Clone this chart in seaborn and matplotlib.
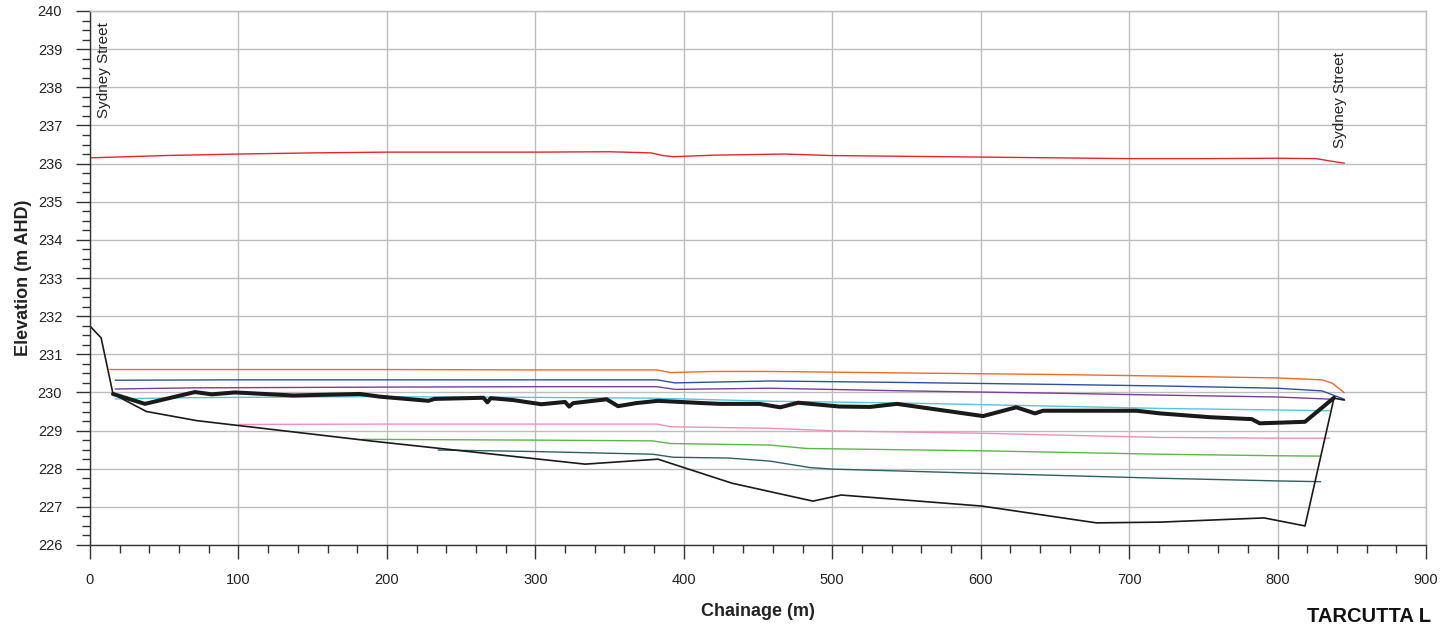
import matplotlib
matplotlib.use("Agg")
import matplotlib.pyplot as plt
from matplotlib.ticker import MultipleLocator
import seaborn as sns

# ---------------- data ----------------
red_x = [0, 50, 100, 150, 200, 250, 300, 350, 378, 386, 393, 420, 468, 500, 550, 600, 650, 700, 750, 800, 826, 835, 845]
red_y = [236.15, 236.21, 236.25, 236.28, 236.30, 236.30, 236.30, 236.31, 236.28, 236.21, 236.18, 236.22, 236.25, 236.21, 236.19, 236.17, 236.15, 236.13, 236.13, 236.14, 236.13, 236.07, 236.01]

orange_x = [13.5, 100, 200, 300, 382, 391, 420, 458, 550, 650, 721, 800, 830, 837, 845]
orange_y = [230.60, 230.60, 230.60, 230.59, 230.59, 230.52, 230.55, 230.55, 230.51, 230.47, 230.43, 230.38, 230.33, 230.24, 229.99]

blue_x = [17, 100, 200, 300, 382, 394, 458, 550, 650, 721, 800, 830, 845]
blue_y = [230.32, 230.33, 230.33, 230.33, 230.33, 230.25, 230.30, 230.26, 230.21, 230.17, 230.11, 230.04, 229.82]

purple_x = [17, 70, 200, 300, 382, 394, 458, 550, 650, 721, 800, 838]
purple_y = [230.09, 230.12, 230.14, 230.15, 230.15, 230.08, 230.11, 230.04, 229.98, 229.93, 229.88, 229.82]

cyan_x = [17, 60, 100, 188, 300, 379, 458, 550, 650, 721, 800, 835]
cyan_y = [229.83, 229.86, 229.87, 229.89, 229.87, 229.85, 229.77, 229.72, 229.64, 229.58, 229.54, 229.52]

pink_x = [100, 200, 300, 382, 391, 458, 503, 600, 721, 800, 835]
pink_y = [229.16, 229.17, 229.17, 229.17, 229.10, 229.06, 228.99, 228.93, 228.82, 228.80, 228.80]

green_x = [183, 300, 379, 391, 458, 483, 600, 721, 800, 829]
green_y = [228.77, 228.75, 228.73, 228.66, 228.62, 228.53, 228.47, 228.38, 228.34, 228.33]

teal_x = [234.5, 300, 379, 393, 430, 458, 485, 500, 600, 721, 800, 829]
teal_y = [228.49, 228.45, 228.38, 228.30, 228.28, 228.20, 228.03, 227.99, 227.88, 227.75, 227.68, 227.66]

bed_x = [15.5, 37, 70.7, 82, 97.7, 137, 182, 195, 228, 232, 265, 267.7, 270, 285, 304, 320, 322.8, 325.5,
         348, 355.7, 368, 382.6, 413, 424.5, 451, 465, 477, 505, 525.5, 543.6, 601.6, 624, 636.6, 642,
         705, 721, 754.5, 782.6, 788, 818.5, 838]
bed_y = [229.96, 229.70, 230.01, 229.95, 230.00, 229.92, 229.96, 229.89, 229.78, 229.83, 229.86, 229.74, 229.85, 229.80,
         229.69, 229.75, 229.63, 229.72, 229.82, 229.64, 229.72, 229.78, 229.72, 229.70, 229.70, 229.61, 229.73,
         229.63, 229.62, 229.70, 229.38, 229.61, 229.45, 229.52, 229.52, 229.45, 229.35, 229.30, 229.19, 229.23, 229.86]

ground_x = [0, 7.5, 15.5, 38, 72, 188.6, 333.5, 382.6, 432.5, 487, 506, 601, 678, 721, 791, 818.5, 838, 845]
ground_y = [231.74, 231.43, 229.96, 229.50, 229.26, 228.73, 228.12, 228.25, 227.62, 227.15, 227.31, 227.02, 226.58, 226.60, 226.71, 226.50, 229.85, 229.80]

x_ticks = [0, 100, 200, 300, 400, 500, 600, 700, 800, 900]
y_ticks = list(range(226, 241))

# ---------------- style ----------------
sns.set_theme(style="whitegrid")
plt.rcParams["font.family"] = ["Liberation Sans", "DejaVu Sans"]

fig = plt.figure(figsize=(14.41, 6.26), dpi=100)
ax = fig.add_axes([90 / 1441, 81 / 626, 1336 / 1441, 534 / 626])

series = [
    (red_x, red_y, "#E8252B", 1.0),
    (orange_x, orange_y, "#F26A24", 1.0),
    (blue_x, blue_y, "#2F4FA2", 1.0),
    (purple_x, purple_y, "#7A3E9C", 1.0),
    (cyan_x, cyan_y, "#55C6DB", 1.0),
    (pink_x, pink_y, "#F28DC0", 1.0),
    (green_x, green_y, "#5BB847", 1.0),
    (teal_x, teal_y, "#2C6163", 1.0),
    (ground_x, ground_y, "#1a1a1a", 1.2),
    (bed_x, bed_y, "#1a1a1a", 2.9),
]
for xs, ys, c, lw in series:
    sns.lineplot(x=xs, y=ys, ax=ax, color=c, linewidth=lw, sort=False, estimator=None)

ax.set_xlim(0, 900)
ax.set_ylim(226, 240)
ax.set_xticks(x_ticks)
ax.set_yticks(y_ticks)
ax.xaxis.set_minor_locator(MultipleLocator(20))
ax.yaxis.set_minor_locator(MultipleLocator(0.25))

ax.grid(True, which="major", color="#bdbdbd", linewidth=1.0)
ax.grid(False, which="minor")
ax.set_facecolor("white")

for side in ["left", "bottom"]:
    ax.spines[side].set_color("#333333")
    ax.spines[side].set_linewidth(1.0)
for side in ["top", "right"]:
    ax.spines[side].set_color("#bdbdbd")
    ax.spines[side].set_linewidth(1.0)

ax.tick_params(axis="both", which="major", direction="out", length=10, width=1.0,
               color="#333333", labelsize=10.5, labelcolor="#222222", pad=10)
ax.tick_params(axis="both", which="minor", direction="out", length=6, width=1.0, color="#333333")
ax.tick_params(axis="x", which="both", bottom=True, top=False)
ax.tick_params(axis="y", which="both", left=True, right=False)

ax.set_xlabel("Chainage (m)", fontsize=13, fontweight="bold", color="#222222", labelpad=12)
ax.set_ylabel("Elevation (m AHD)", fontsize=13, fontweight="bold", color="#222222", labelpad=4)

ax.text(9.4, 237.2, "Sydney Street", rotation=90, ha="center", va="bottom", fontsize=11, color="#222222")
ax.text(842, 236.4, "Sydney Street", rotation=90, ha="center", va="bottom", fontsize=11, color="#222222")

fig.text(1307 / 1441, 1 - 622 / 626, "TARCUTTA L", ha="left", va="baseline", fontsize=14.5,
         fontweight="bold", color="#111111")

fig.savefig("out.png", dpi=100)
